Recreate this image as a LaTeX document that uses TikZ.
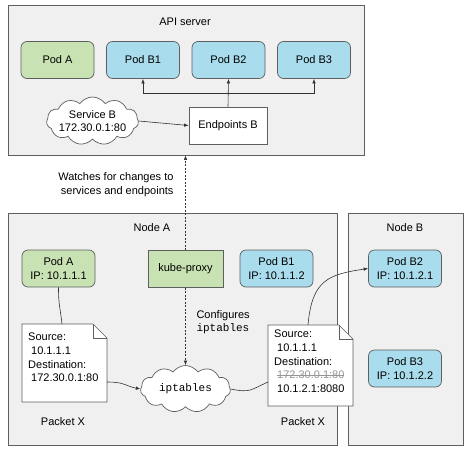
\documentclass[tikz,border=0pt]{standalone}
\usepackage{fontspec}
\setmainfont{Liberation Sans}
\setmonofont{Liberation Mono}
\usepackage{xcolor}
\usetikzlibrary{arrows.meta,positioning,calc,shapes.symbols}
\definecolor{podgreen}{RGB}{201,226,179}
\definecolor{podblue}{RGB}{169,220,236}
\definecolor{zonegray}{RGB}{240,240,240}
\definecolor{edgegray}{RGB}{95,95,95}
\definecolor{strikegray}{RGB}{150,150,150}

% text with a line through it
\newsavebox{\struckbox}
\newcommand{\struckout}[1]{\sbox{\struckbox}{#1}\rlap{\rule[0.32em]{\wd\struckbox}{0.6pt}}\usebox{\struckbox}}

% sheet of paper with a folded corner, from its top left to its bottom right corner
\newcommand{\pktsheet}[2]{%
  \draw[draw=edgegray,fill=white,line width=0.7pt]
    (#1) -- ($(#1 -| #2)+(-14,0)$) -- ($(#1 -| #2)+(0,14)$) -- (#2) -- (#1 |- #2) -- cycle;
  \draw[draw=edgegray,line width=0.7pt]
    ($(#1 -| #2)+(-14,0)$) |- ($(#1 -| #2)+(0,14)$);}

\begin{document}
\begin{tikzpicture}[x=1pt,y=-1pt,font=\fontsize{11}{13.7}\selectfont,
  zone/.style={draw=edgegray,fill=zonegray,line width=0.8pt},
  pod/.style={draw=edgegray,line width=0.7pt,rounded corners=6pt,minimum width=73pt,minimum height=37pt,align=center,inner sep=1pt},
  greenpod/.style={pod,fill=podgreen},
  bluepod/.style={pod,fill=podblue},
  puff/.style={cloud,cloud puffs=11,cloud puff arc=110,cloud ignores aspect,draw=edgegray,line width=0.7pt,fill=white,inner sep=0pt},
  packet/.style={align=left,inner sep=0pt},
  link/.style={draw=black!80,line width=0.6pt},
  arr/.style={link,-{Latex[length=4.5pt,width=3.5pt]}},
  watch/.style={arr,dash pattern=on 2pt off 1.5pt}]

\useasboundingbox (0,0) rectangle (468,450);

% API server
\node[zone,minimum width=356pt,minimum height=150pt] (api) at (186,80) {};
\node (apilbl) at (185,22) {API server};
\node[greenpod] (apiPodA) at (57.5,60) {Pod A};
\node[bluepod] (apiPodB1) at (143,60) {Pod B1};
\node[bluepod] (apiPodB2) at (228.5,60) {Pod B2};
\node[bluepod] (apiPodB3) at (314,60) {Pod B3};
\node[draw=edgegray,fill=white,line width=0.7pt,minimum width=78pt,minimum height=37pt] (endB) at (228,125.5) {Endpoints B};
\node[puff,minimum width=92pt,minimum height=48pt] (svcB) at (92.5,121) {};
\node[align=center] (svcBtxt) at (svcB.center) {Service B\\172.30.0.1:80};

\coordinate (split) at (228,93);
\draw[arr] (svcB.east) -- (endB.west);
\draw[arr] (endB.north) -- (apiPodB2.south);
\draw[arr] (split) -| (apiPodB1.south);
\draw[arr] (split) -| (apiPodB3.south);

% the two nodes
\node[zone,minimum width=329pt,minimum height=232pt] (nodeA) at (172.5,329) {};
\node[zone,minimum width=115pt,minimum height=232pt] (nodeB) at (405.5,329) {};
\node (nodeAlbl) at (152,228) {Node A};
\node (nodeBlbl) at (405,228) {Node B};

\node[greenpod] (podA) at (58.5,268.5) {Pod A\\IP: 10.1.1.1};
\node[pod,fill=podgreen,rounded corners=0pt,minimum width=75pt] (kproxy) at (185.5,269) {kube-proxy};
\node[bluepod] (podB1) at (276.5,268.5) {Pod B1\\IP: 10.1.1.2};
\node[bluepod] (podB2) at (405,268.5) {Pod B2\\IP: 10.1.2.1};
\node[bluepod] (podB3) at (405,368.5) {Pod B3\\IP: 10.1.2.2};

\node[puff,minimum width=90pt,minimum height=47pt] (ipt) at (185.5,389) {};
\node (ipttxt) at (ipt.center) {\texttt{iptables}};

% packet before iptables
\coordinate (pktLnw) at (22,324);
\coordinate (pktLse) at (107,402);
\pktsheet{pktLnw}{pktLse}
\node[packet,anchor=north west] (pktL) at (28,333) {Source:\\\hspace{3pt}10.1.1.1\\Destination:\\\hspace{3pt}172.30.0.1:80};
\node (pktLlbl) at (63,422) {Packet X};

% packet after iptables
\coordinate (pktRnw) at (268,325);
\coordinate (pktRse) at (353,406);
\pktsheet{pktRnw}{pktRse}
\node[packet,anchor=north west] (pktR) at (274,330) {Source:\\\hspace{3pt}10.1.1.1\\Destination:\\\hspace{3pt}\textcolor{strikegray}{\struckout{172.30.0.1:80}}\\\hspace{3pt}10.1.2.1:8080};
\node (pktRlbl) at (303,422) {Packet X};

% connectors
\draw[watch] (kproxy.north) -- (kproxy.north |- api.south);
\node[align=right,anchor=east] (watchlbl) at (177,185) {Watches for changes to\\services and endpoints};
\draw[watch] (kproxy.south) -- (ipt.north);
\node[align=left,anchor=west] (cfglbl) at (193,322) {Configures\\\texttt{iptables}};

\draw[link] (podA.south) .. controls +(0,18) and +(-2,-18) .. ($(pktLnw)+(40,0)$);
\draw[arr] ($(pktLnw |- pktLse)+(85,-20)$) .. controls +(18,0) and +(-15,-3) .. (ipt.west);
\draw[link] (ipt.east) .. controls +(20,4) and +(-18,8) .. ($(pktRnw)+(0,57)$);
\draw[arr] ($(pktRnw)+(40,0)$) .. controls +(4,-45) and +(-40,6) .. (podB2.west);
\end{tikzpicture}
\end{document}
